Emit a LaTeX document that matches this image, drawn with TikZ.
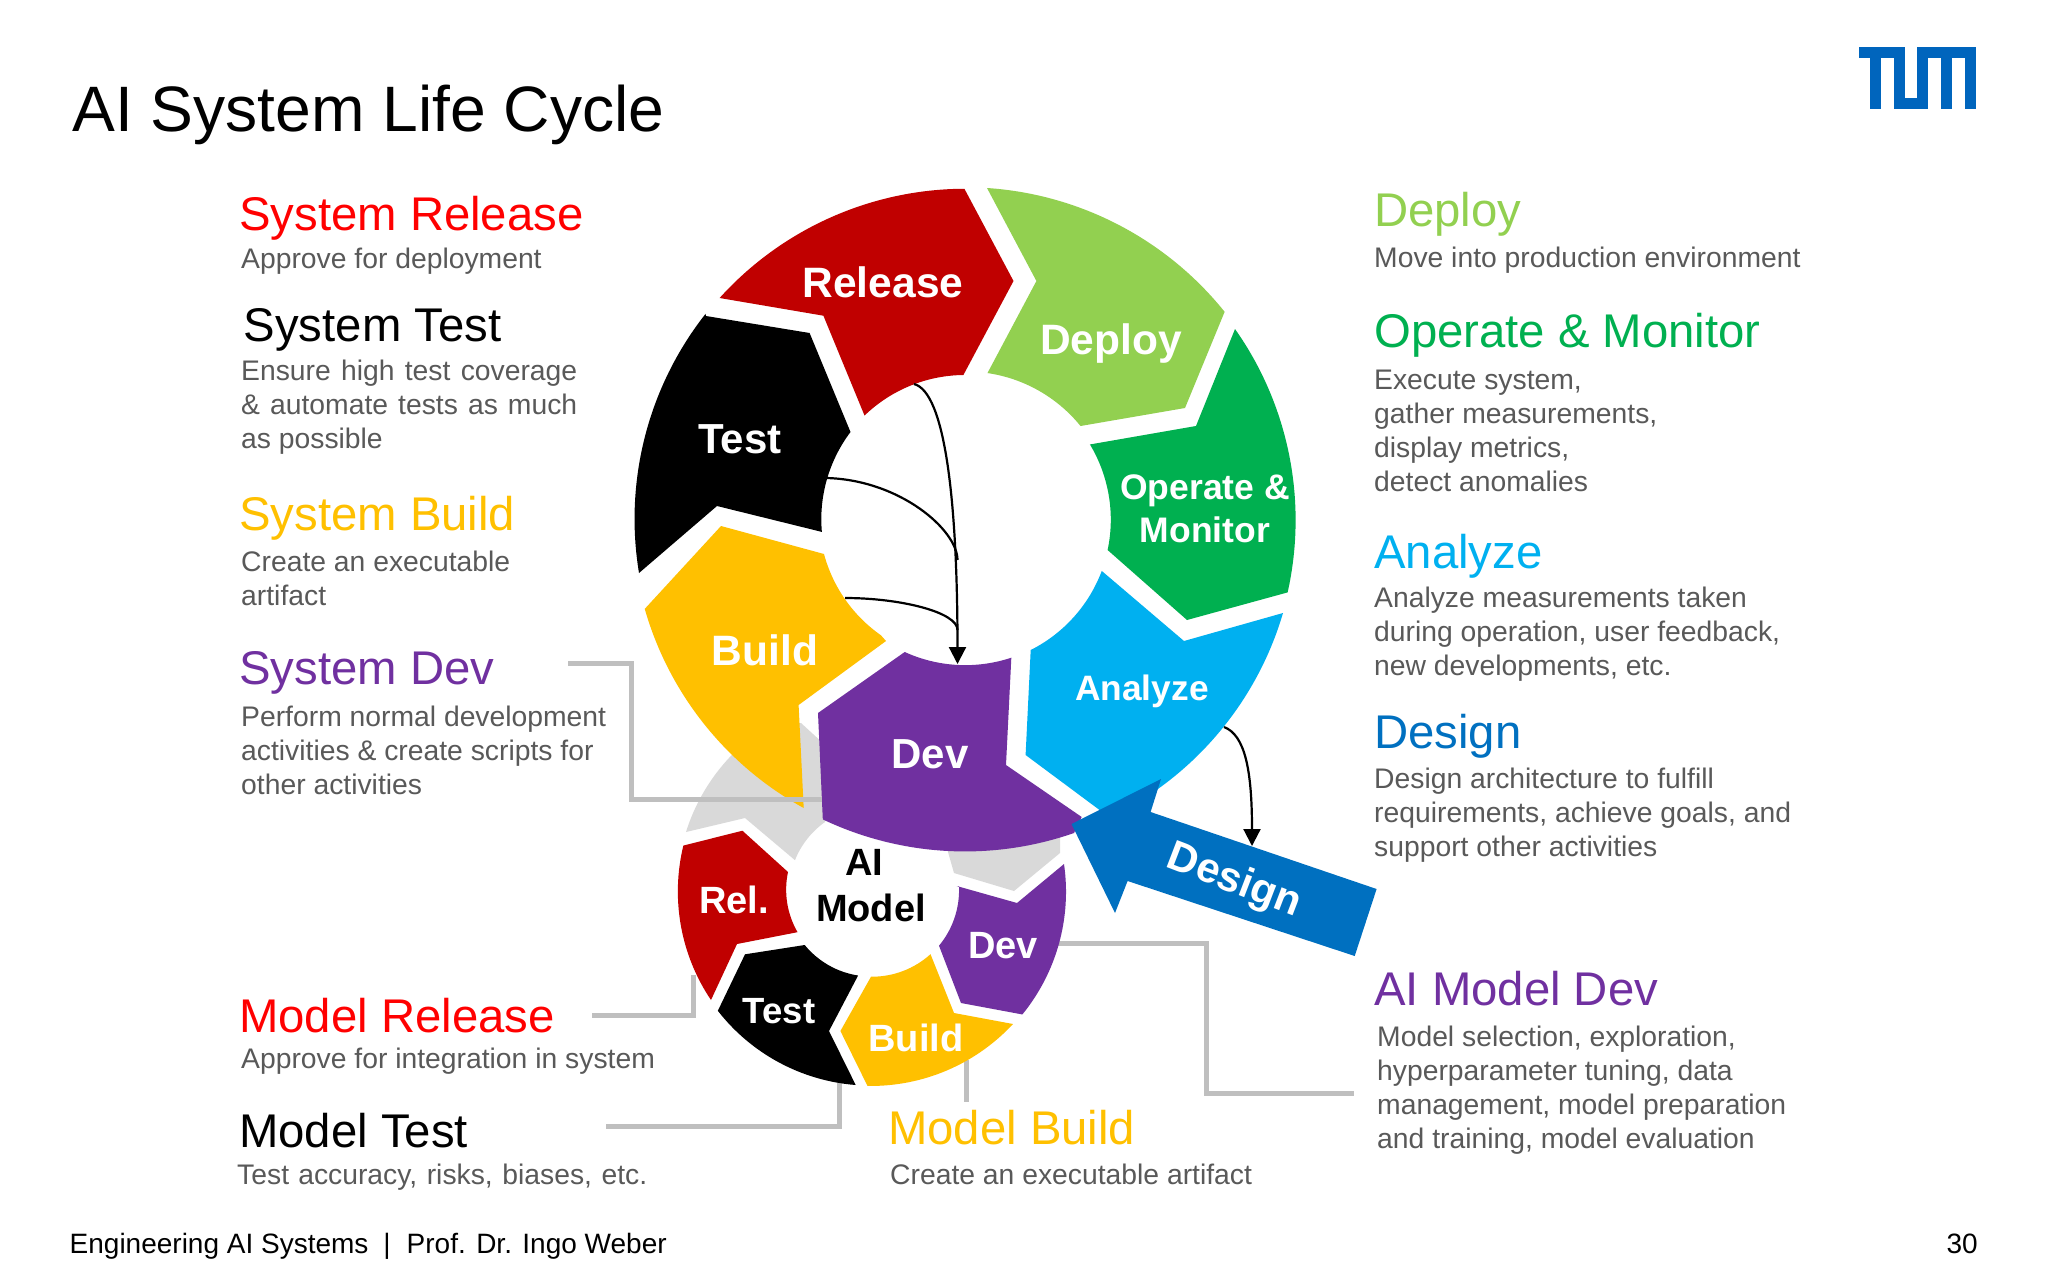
\documentclass[tikz,border=0pt]{standalone}
\usepackage{fontspec}
\setmainfont{Liberation Sans}
\usetikzlibrary{arrows.meta}
\definecolor{cRel}{HTML}{C00000}
\definecolor{cRed}{HTML}{FF0000}
\definecolor{cDep}{HTML}{92D050}
\definecolor{cOp}{HTML}{00B050}
\definecolor{cAn}{HTML}{00B0F0}
\definecolor{cDev}{HTML}{7030A0}
\definecolor{cBld}{HTML}{FFC000}
\definecolor{cDes}{HTML}{0070C0}
\definecolor{cTum}{HTML}{0065BD}
\definecolor{cBody}{HTML}{595959}
\definecolor{cGrey}{HTML}{D9D9D9}
\definecolor{cLead}{HTML}{BFBFBF}
\tikzset{
  x=1pt,y=-1pt,
  seg/.style={draw=none},
  title/.style={anchor=base west,inner sep=0pt,font=\fontsize{64.2}{70}\selectfont},
  head/.style={anchor=base west,inner sep=0pt,font=\fontsize{47.3}{52}\selectfont},
  body/.style={anchor=base west,inner sep=0pt,text=cBody,align=left,font=\fontsize{28.3}{34}\selectfont},
  foot/.style={inner sep=0pt,font=\fontsize{28}{34}\selectfont},
  lab/.style={anchor=base,inner sep=0pt,text=white,align=center,font=\bfseries\fontsize{#1}{#1}\selectfont},
  lead/.style={draw=cLead,line width=5pt,line join=miter},
  flow/.style={draw=black,line width=2.2pt},
  flowarrow/.style={flow,-{Triangle[length=17pt,width=17pt]}},
}
\begin{document}
\begin{tikzpicture}
\useasboundingbox (0,0) rectangle (2048,1280);
\fill[white] (0,0) rectangle (2048,1280);

% named ends of the connectors
\coordinate (sd0) at (568,663);
\coordinate (sd1) at (631,663);
\coordinate (sd2) at (631,799);
\coordinate (sd3) at (822,799);
\coordinate (mr0) at (592,1015);
\coordinate (mr1) at (693,1015);
\coordinate (mr2) at (693,975);
\coordinate (mt0) at (606,1126);
\coordinate (mt1) at (839,1126);
\coordinate (mt2) at (839,1070);
\coordinate (mb0) at (966,1060);
\coordinate (mb1) at (966,1102);
\coordinate (md0) at (1050,943);
\coordinate (md1) at (1206,943);
\coordinate (md2) at (1206,1093);
\coordinate (md3) at (1354,1093);
\coordinate (fRel) at (914,384);
\coordinate (fTest) at (826.6,478);
\coordinate (fBld) at (845,598);
\coordinate (fJ1) at (957.5,560);
\coordinate (fJ2) at (957.5,630);
\coordinate (fDev) at (957.5,664);
\coordinate (fAn) at (1224,727);
\coordinate (fDes) at (1252,846);

% grey back part of the small ring
\fill[cGrey] (686,832) arc[start angle=197.4,end angle=238.6,radius=194] -- (801,723) -- (825,745) -- (825,822)
  arc[start angle=234.8,end angle=201.6,radius=85] -- (745,818) -- cycle;
\fill[cGrey] (946,845) -- (954,873) -- (1014,891) -- (1060,853) -- (1060,825) -- cycle;

% connectors running behind the small ring
\draw[lead] (mr0) -- (mr1) -- (mr2);
\draw[lead] (mt0) -- (mt1) -- (mt2);
\draw[lead] (mb0) -- (mb1);
\draw[lead] (md0) -- (md1) -- (md2) -- (md3);

% small ring
\fill[cRel] (711,1000) arc[start angle=146,end angle=193.7,radius=194] -- (742.4,830.7) -- (788,872)
  arc[start angle=192,end angle=150,radius=85] -- (737,944) -- cycle;
\fill[black] (745,954.3) -- (804.7,945) arc[start angle=140.7,end angle=98.8,radius=86] -- (829,1031) -- (855.7,1085)
  arc[start angle=94.5,end angle=142.1,radius=194] -- cycle;
\fill[cBld] (871,976.7) arc[start angle=90.7,end angle=47.8,radius=87] -- (954,1013) -- (1013,1024)
  arc[start angle=42.9,end angle=91,radius=194] -- (840.4,1031) -- cycle;
\fill[cDev] (956.7,886) -- (1017,903) -- (1064,864) arc[start angle=-8.25,end angle=39.2,radius=194] -- (961,1003) -- (939,945.7)
  arc[start angle=39.7,end angle=-2.7,radius=87] -- cycle;

% big ring
\fill[cBld] (721,526) -- (824,554) arc[start angle=165,end angle=125,radius=145] -- (886,641) -- (798.6,705) -- (803.7,808)
  arc[start angle=118.8,end angle=164,radius=331.5] -- cycle;
\fill[black] (706,316) -- (809.6,333) -- (850.5,432) arc[start angle=217,end angle=175,radius=145] -- (717,506) -- (639,573)
  arc[start angle=170.6,end angle=218.2,radius=331.5] -- cycle;
\fill[cRel] (719.6,298) arc[start angle=222.1,end angle=269.8,radius=331.5] -- (1013.5,281) -- (963.4,375)
  arc[start angle=269.4,end angle=226,radius=144.5] -- (823.4,315.7) -- cycle;
\fill[cDep] (987,188) arc[start angle=273.8,end angle=321.25,radius=333] -- (1185,408) -- (1080.5,426)
  arc[start angle=321,end angle=278.3,radius=147] -- (1036.4,281) -- cycle;
\fill[cOp] (1235,329) arc[start angle=324.8,end angle=372.6,radius=331.5] -- (1187,620) -- (1107.6,550)
  arc[start angle=12,end angle=-31,radius=146] -- (1196,426) -- cycle;
\fill[cAn] (1283,613) arc[start angle=16.4,end angle=64.1,radius=331.5] -- (1025.6,755) -- (1030.7,650)
  arc[start angle=63.3,end angle=20.6,radius=146] -- (1184,641) -- cycle;
\fill[cDev] (904.7,652) arc[start angle=114.5,end angle=71.6,radius=146] -- (1006,765) -- (1081.7,817) -- (1074,833)
  arc[start angle=70.8,end angle=115.4,radius=331.5] -- (818,713) -- cycle;

% leader over the build segment
\draw[lead] (sd0) -- (sd1) -- (sd2) -- (sd3);

% design arrow
\fill[cDes] (1071.5,824) -- (1161,779) -- (1150.6,812) -- (1376.6,889) -- (1354.7,956) -- (1127.6,881) -- (1115,913) -- cycle;

% black flows
\draw[flowarrow] (fRel) .. controls (945,392) and (957.5,500) .. (fDev);
\draw[flow] (fTest) .. controls (900,480) and (957.5,530) .. (fJ1);
\draw[flow] (fBld) .. controls (900,598) and (957.5,612) .. (fJ2);
\draw[flowarrow] (fAn) .. controls (1245,735) and (1252,770) .. (fDes);

% TUM logo
\fill[cTum] (1858.7,47.3) rectangle (1904.7,57.7);
\fill[cTum] (1870,47.3) rectangle (1881,108.7);
\fill[cTum] (1893.7,47.3) rectangle (1904.7,108.7);
\fill[cTum] (1893.7,98) rectangle (1928.3,108.7);
\fill[cTum] (1917.3,47.3) rectangle (1928.3,108.7);
\fill[cTum] (1917.3,47.3) rectangle (1976,57.7);
\fill[cTum] (1941,47.3) rectangle (1952.3,108.7);
\fill[cTum] (1965,47.3) rectangle (1976,108.7);

% segment labels
\node[lab=42.5] (lRelease) at (883,297) {Release};
\node[lab=42.5] (lDeploy) at (1111,354) {Deploy};
\node[lab=42] (lTest) at (740,453.5) {Test};
\node[lab=35.5] (lOp1) at (1205,499) {Operate \&};
\node[lab=35.5] (lOp2) at (1205,542) {Monitor};
\node[lab=42.5] (lBuild) at (765,665.5) {Build};
\node[lab=35.3] (lAnalyze) at (1142,700) {Analyze};
\node[lab=42] (lDev) at (930,768) {Dev};
\node[lab=38,text=black] (lAI) at (864,875) {AI};
\node[lab=38,text=black] (lModel) at (871,921) {Model};
\node[lab=38] (lRel) at (734,913.5) {Rel.};
\node[lab=38] (lDevS) at (1003,958) {Dev};
\node[lab=36.5] (lTestS) at (779,1023) {Test};
\node[lab=38] (lBuildS) at (916,1051.5) {Build};
\node[lab=42,anchor=center,rotate=-21] (lDesign) at (1234,882) {Design};

% title and footer
\node[title] (tTitle) at (72,131.5) {AI System Life Cycle};
\node[foot,anchor=base west] (tFoot) at (69.5,1253) {Engineering AI Systems\hspace{15pt}|\hspace{16pt}Prof. Dr. Ingo Weber};
\node[foot,anchor=base east] (tPage) at (1978,1253) {30};

% left column
\node[head,text=cRed] (h1) at (239,230) {System Release};
\node[body] (b1) at (241,268.5) {Approve for deployment};
\node[head,text=black] (h2) at (243.5,341) {System Test};
\node[body] (b2) at (241,448) {\makebox[336pt][s]{Ensure high test coverage}\\\makebox[336pt][s]{\& automate tests as much}\\as possible};
\node[head,text=cBld] (h3) at (239,530) {System Build};
\node[body] (b3) at (241,605) {Create an executable\\artifact};
\node[head,text=cDev] (h4) at (239,684) {System Dev};
\node[body] (b4) at (241,794.5) {Perform normal development\\activities \& create scripts for\\other activities};
\node[head,text=cRed] (h5) at (239,1032) {Model Release};
\node[body] (b5) at (241,1068.5) {Approve for integration in system};
\node[head,text=black] (h6) at (239,1147) {Model Test};
\node[body] (b6) at (237,1184.5) {\makebox[410pt][s]{Test accuracy, risks, biases, etc.}};
\node[head,text=cBld] (h7) at (888,1144.5) {Model Build};
\node[body] (b7) at (890,1184.5) {Create an executable artifact};

% right column
\node[head,text=cDep] (h8) at (1374,226) {Deploy};
\node[body] (b8) at (1374,267) {Move into production environment};
\node[head,text=cOp] (h9) at (1374,347) {Operate \& Monitor};
\node[body] (b9) at (1374,491) {Execute system,\\gather measurements,\\display metrics,\\detect anomalies};
\node[head,text=cAn] (h10) at (1374,568) {Analyze};
\node[body] (b10) at (1374,675) {Analyze measurements taken\\during operation, user feedback,\\new developments, etc.};
\node[head,text=cDes] (h11) at (1374,748) {Design};
\node[body] (b11) at (1374,856) {Design architecture to fulfill\\requirements, achieve goals, and\\support other activities};
\node[head,text=cDev] (h12) at (1374,1005) {AI Model Dev};
\node[body] (b12) at (1377,1148.5) {Model selection, exploration,\\hyperparameter tuning, data\\management, model preparation\\and training, model evaluation};
\end{tikzpicture}
\end{document}
